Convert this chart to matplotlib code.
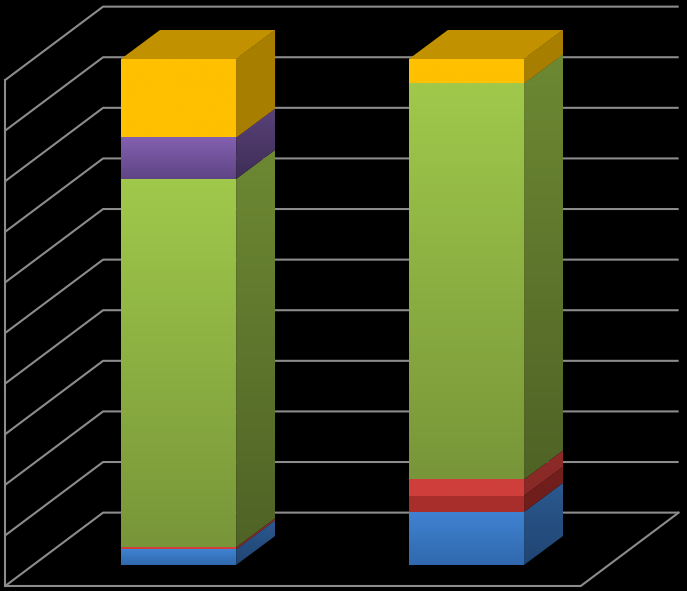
import numpy as np
import matplotlib
matplotlib.use('Agg')
import matplotlib.pyplot as plt
from matplotlib.colors import to_rgb
from matplotlib.patches import Polygon

# stacked values in percent, bottom to top
categories = [0, 1]
blue = [3.1, 10.5]
dark_red = [0.0, 3.2]
red = [0.4, 3.2]
green = [72.8, 78.3]
purple = [8.2, 0.0]
gold = [15.5, 4.8]
ticks = [0, 10, 20, 30, 40, 50, 60, 70, 80, 90, 100]

series = [blue, dark_red, red, green, purple, gold]
# front face colours, top and bottom of each segment
tops = ['#4083d2', '#a82e2b', '#cf3f3b', '#a0c94b', '#8360b0', '#ffc000']
bottoms = ['#3068ad', '#a82e2b', '#cf3f3b', '#789639', '#5f4585', '#ffc000']
side_dark = 0.66

bar_w = 0.4
dep_x = 0.1354
dep_y = 5.73
wall_x = 0.34
wall_y = 14.5
front_x = -0.602
right_x = 1.397
floor_y = -4.15

fig = plt.figure(figsize=(6.87, 5.91), dpi=100, facecolor='black')
ax = fig.add_axes([0, 0, 1, 1])
ax.set_facecolor('black')
ax.axis('off')


def shade(poly, c_top, c_bot, zorder):
    # vertical gradient clipped to a polygon
    poly = np.array(poly)
    c_top = np.array(to_rgb(c_top))
    c_bot = np.array(to_rgb(c_bot))
    t = np.linspace(0, 1, 64)[:, None]
    img = (c_top * (1 - t) + c_bot * t)[:, None, :]
    ext = [poly[:, 0].min(), poly[:, 0].max(), poly[:, 1].min(), poly[:, 1].max()]
    im = ax.imshow(img, extent=ext, origin='upper', aspect='auto', zorder=zorder, interpolation='bilinear')
    patch = Polygon(poly, closed=True, transform=ax.transData, fc='none', ec='none')
    ax.add_patch(patch)
    im.set_clip_path(patch)


def darker(c, f):
    return tuple(np.array(to_rgb(c)) * f)


# walls and floor
grid = '#8c8c8c'
for t in ticks:
    y0 = floor_y + t
    ax.plot([front_x, front_x + wall_x, right_x + wall_x],
            [y0, y0 + wall_y, y0 + wall_y], color=grid, lw=1.5, zorder=1, solid_capstyle='butt')
ax.plot([front_x, front_x], [floor_y, floor_y + 100], color=grid, lw=1.5, zorder=1)
ax.plot([front_x, right_x, right_x + wall_x], [floor_y, floor_y, floor_y + wall_y], color=grid, lw=1.5, zorder=1)

# bars
for i, pos in enumerate(categories):
    x0 = pos - bar_w / 2
    x1 = pos + bar_w / 2
    base = 0.0
    for k, vals in enumerate(series):
        v = vals[i]
        if v == 0:
            continue
        top = base + v
        z = 2 + k * 0.01
        shade([(x0, base), (x1, base), (x1, top), (x0, top)], tops[k], bottoms[k], z)
        shade([(x1, base), (x1 + dep_x, base + dep_y), (x1 + dep_x, top + dep_y), (x1, top)],
              darker(tops[k], side_dark + 0.02), darker(bottoms[k], side_dark), z)
        base = top
    ax.add_patch(Polygon([(x0, base), (x1, base), (x1 + dep_x, base + dep_y), (x0 + dep_x, base + dep_y)],
                         closed=True, fc='#c29100', ec='none', zorder=3))
    # gold side is flat and darker
    ax.add_patch(Polygon([(x1, base - gold[i]), (x1 + dep_x, base - gold[i] + dep_y),
                          (x1 + dep_x, base + dep_y), (x1, base)],
                         closed=True, fc='#a87e00', ec='none', zorder=3))

ax.set_xlim(-0.62, 1.766)
ax.set_ylim(-5.14, 111.66)

plt.savefig('out.png', dpi=100, facecolor='black')
